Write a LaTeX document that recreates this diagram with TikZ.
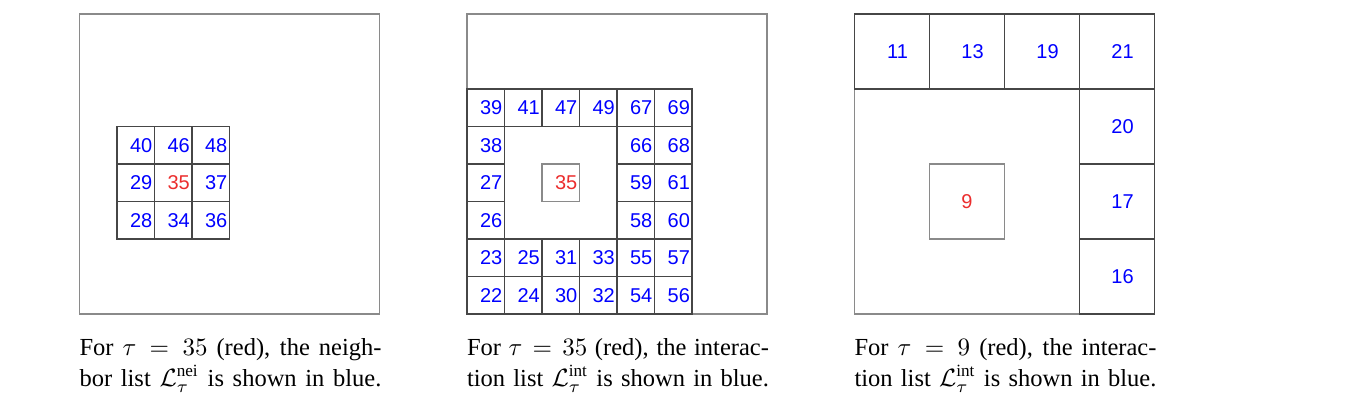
\documentclass[tikz,border=0pt]{standalone}
\usepackage{fontspec}
\setmainfont{Liberation Serif}
\newfontfamily\numfont{Liberation Sans}
\definecolor{boxgray}{RGB}{138,138,138}
\definecolor{gridgray}{RGB}{70,70,70}
\definecolor{taured}{RGB}{235,45,45}

\begin{document}
\begin{tikzpicture}[
  fieldbox/.style={draw=boxgray,line width=0.45pt,minimum size=120pt,inner sep=0pt,outer sep=0pt,anchor=south west},
  cellbox/.style={draw=gridgray,line width=0.45pt,inner sep=0pt,outer sep=0pt,minimum size=15pt},
  numtxt/.style={text=blue,font=\numfont\fontsize{8pt}{8pt}\selectfont,inner sep=0pt,xshift=2.2pt},
  numcell/.style={cellbox,label={[numtxt]center:#1}},
  redcell/.style={cellbox,label={[numtxt,text=taured]center:#1}},
  captxt/.style={anchor=base west,align=left,inner sep=0pt,font=\fontsize{9.8pt}{12.4pt}\selectfont}
]
\useasboundingbox (0,0) rectangle (547.2pt,166.8pt);

\begin{scope}[shift={(31.8pt,41.2pt)},x=15pt,y=15pt]
\node[fieldbox] (dom1) at (0,0) {};
\foreach \n/\c/\r in {40/1/4,46/2/4,48/3/4,29/1/3,37/3/3,28/1/2,34/2/2,36/3/2}
  \node[numcell=\n] (a\n) at (\c+0.5,\r+0.5) {};
\node[redcell=35] (a35) at (2.5,3.5) {};
\end{scope}

\begin{scope}[shift={(186.8pt,41.2pt)},x=15pt,y=15pt]
\node[fieldbox] (dom2) at (0,0) {};
\foreach \n/\c/\r in {39/0/5,41/1/5,47/2/5,49/3/5,67/4/5,69/5/5,
    38/0/4,66/4/4,68/5/4,27/0/3,59/4/3,61/5/3,26/0/2,58/4/2,60/5/2,
    23/0/1,25/1/1,31/2/1,33/3/1,55/4/1,57/5/1,
    22/0/0,24/1/0,30/2/0,32/3/0,54/4/0,56/5/0}
  \node[numcell=\n] (b\n) at (\c+0.5,\r+0.5) {};
\node[redcell=35,draw=boxgray] (b35) at (2.5,3.5) {};
\end{scope}

\begin{scope}[shift={(341.8pt,41.2pt)},x=30pt,y=30pt]
\node[fieldbox] (dom3) at (0,0) {};
\foreach \n/\c/\r in {11/0/3,13/1/3,19/2/3,21/3/3,20/3/2,17/3/1,16/3/0}
  \node[numcell=\n,minimum size=30pt] (c\n) at (\c+0.5,\r+0.5) {};
\node[cellbox,draw=boxgray,minimum size=30pt,label={[numtxt,text=taured,xshift=-2.2pt]center:9}] (c9) at (1.5,1.5) {};
\end{scope}

\node[captxt] (cap1) at (31.6pt,12.4pt) {\makebox[120.8pt][s]{For $\tau = 35$ (red), the neigh-}\\
  \makebox[120.8pt][s]{bor list $\mathcal{L}^{\mathrm{nei}}_{\tau}$ is shown in blue.}};
\node[captxt] (cap2) at (186.6pt,12.4pt) {\makebox[120.8pt][s]{For $\tau = 35$ (red), the interac-}\\
  \makebox[120.8pt][s]{tion list $\mathcal{L}^{\mathrm{int}}_{\tau}$ is shown in blue.}};
\node[captxt] (cap3) at (341.6pt,12.4pt) {\makebox[120.8pt][s]{For $\tau = 9$ (red), the interac-}\\
  \makebox[120.8pt][s]{tion list $\mathcal{L}^{\mathrm{int}}_{\tau}$ is shown in blue.}};
\end{tikzpicture}
\end{document}
